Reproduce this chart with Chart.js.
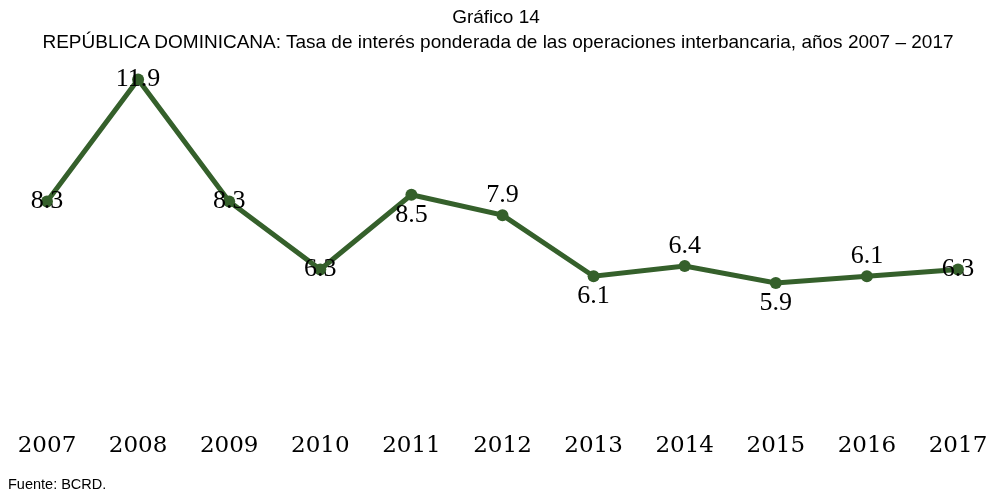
<!DOCTYPE html>
<html>
<head>
<meta charset="utf-8">
<script src="https://cdn.jsdelivr.net/npm/chart.js@4/dist/chart.umd.min.js"></script>
<style>
  html, body { margin: 0; padding: 0; background: #fff; }
  #wrap { position: relative; width: 992px; height: 495px; }
  .txt { position: absolute; font-family: "Liberation Sans Narrow", "Liberation Sans", sans-serif; color: #000; }
  #t1 { left: 0; width: 992px; top: 6px; text-align: center; font-size: 19px; }
  #t2 { left: 2px; width: 992px; top: 31px; text-align: center; font-size: 19px; }
  #src { left: 8px; top: 476px; font-size: 14.5px; }
</style>
</head>
<body>
<div id="wrap">
  <canvas id="c" width="992" height="495"></canvas>
  <div class="txt" id="t1">Gráfico 14</div>
  <div class="txt" id="t2">REPÚBLICA DOMINICANA: Tasa de interés ponderada de las operaciones interbancaria, años 2007 – 2017</div>
  <div class="txt" id="src">Fuente: BCRD.</div>
</div>
<script>
const years = ['2007', '2008', '2009', '2010', '2011', '2012', '2013', '2014', '2015', '2016', '2017'];
const rates = [8.3, 11.9, 8.3, 6.3, 8.5, 7.9, 6.1, 6.4, 5.9, 6.1, 6.3];
// where each value label sits: c = on the point, a = above, b = below
const labelPos = ['c', 'c', 'c', 'c', 'b', 'a', 'b', 'a', 'b', 'a', 'c'];

const valueLabels = {
  id: 'valueLabels',
  afterDatasetsDraw(chart) {
    const ctx = chart.ctx;
    const meta = chart.getDatasetMeta(0);
    ctx.save();
    ctx.font = '26px "Liberation Serif", "DejaVu Serif", serif';
    ctx.fillStyle = '#000';
    ctx.textAlign = 'center';
    ctx.textBaseline = 'middle';
    meta.data.forEach((pt, i) => {
      let dy = 0;
      if (labelPos[i] === 'a') dy = -20;
      if (labelPos[i] === 'b') dy = 20;
      ctx.fillText(rates[i].toFixed(1), pt.x, pt.y + dy);
    });
    ctx.restore();
  }
};

new Chart(document.getElementById('c'), {
  type: 'line',
  data: {
    labels: years,
    datasets: [{
      data: rates,
      borderColor: '#35602b',
      backgroundColor: '#35602b',
      borderWidth: 5,
      pointRadius: 6,
      pointBackgroundColor: '#35602b',
      pointBorderWidth: 0,
      tension: 0,
      clip: false
    }]
  },
  options: {
    responsive: false,
    animation: false,
    layout: { padding: { left: 47, right: 34, top: 76, bottom: 26 } },
    plugins: { legend: { display: false }, tooltip: { enabled: false } },
    scales: {
      x: {
        offset: false,
        grid: { display: false },
        border: { display: false },
        afterFit: (s) => { s.paddingLeft = 0; s.paddingRight = 0; },
        ticks: {
          color: '#000',
          padding: 9,
          maxRotation: 0,
          font: { family: '"DejaVu Serif", "Liberation Serif", serif', size: 23 }
        }
      },
      y: { display: false, min: 2, max: 12 }
    }
  },
  plugins: [valueLabels]
});
</script>
</body>
</html>
